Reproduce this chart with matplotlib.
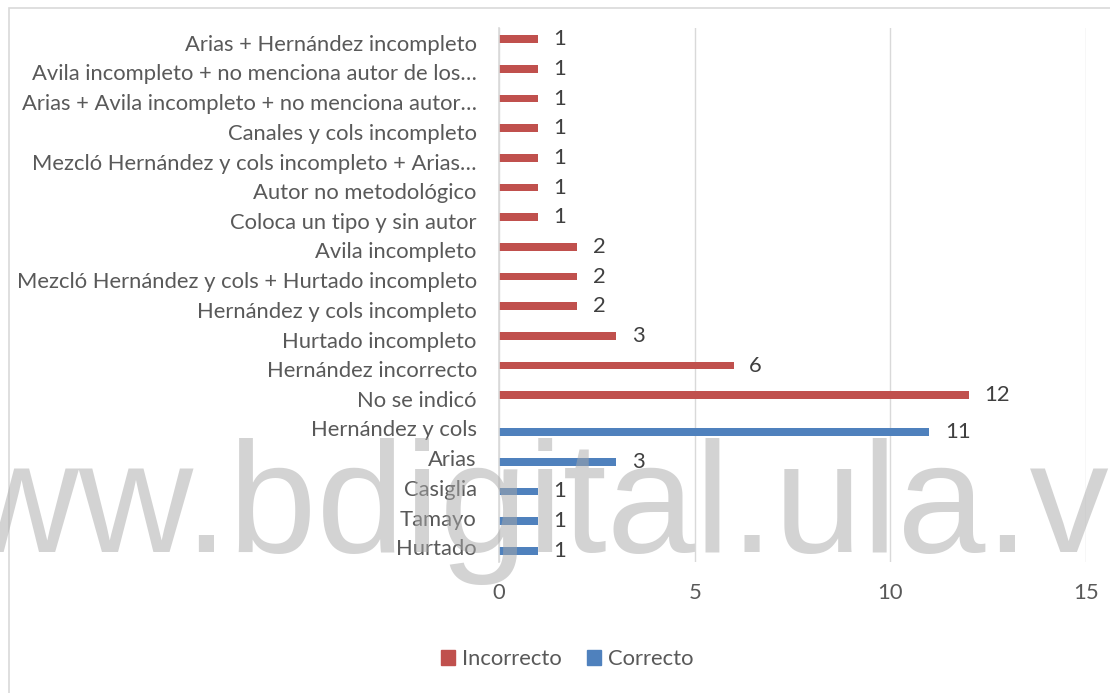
import matplotlib
matplotlib.use("Agg")
import matplotlib.pyplot as plt
from matplotlib.patches import Rectangle, Patch
import numpy as np

categories = [
    "Arias + Hernández incompleto",
    "Avila incompleto + no menciona autor de los…",
    "Arias + Avila incompleto + no menciona autor…",
    "Canales y cols incompleto",
    "Mezcló Hernández y cols incompleto + Arias…",
    "Autor no metodológico",
    "Coloca un tipo y sin autor",
    "Avila incompleto",
    "Mezcló Hernández y cols + Hurtado incompleto",
    "Hernández y cols incompleto",
    "Hurtado incompleto",
    "Hernández incorrecto",
    "No se indicó",
    "Hernández y cols",
    "Arias",
    "Casiglia",
    "Tamayo",
    "Hurtado",
]
incorrecto = [1, 1, 1, 1, 1, 1, 1, 2, 2, 2, 3, 6, 12, 0, 0, 0, 0, 0]
correcto = [0, 0, 0, 0, 0, 0, 0, 0, 0, 0, 0, 0, 0, 11, 3, 1, 1, 1]
xticks = [0, 5, 10, 15]

RED = "#C0504D"
BLUE = "#4F81BD"
TXT = "#595959"
FONT = "Lato"
FS = 15.8

plt.rcParams["font.family"] = [FONT, "DejaVu Sans"]

W, H = 1110, 693
fig = plt.figure(figsize=(W / 100, H / 100), dpi=100)
ax = fig.add_axes([499 / W, 1 - 562 / H, (1086 - 499) / W, (562 - 28) / H])

y = np.arange(len(categories))
bw = 0.26
off = 0.12
ax.barh(y - off, incorrecto, height=bw, color=RED, label="Incorrecto", zorder=3)
ax.barh(y + off, correcto, height=bw, color=BLUE, label="Correcto", zorder=3)

for yi, v in zip(y - off, incorrecto):
    if v:
        ax.annotate(str(v), (v, yi), xytext=(11, 0), textcoords="offset points",
                    va="center", ha="left", fontsize=FS, color="#404040")
for yi, v in zip(y + off, correcto):
    if v:
        ax.annotate(str(v), (v, yi), xytext=(11, 0), textcoords="offset points",
                    va="center", ha="left", fontsize=FS, color="#404040")

ax.set_xlim(0, 15)
ax.set_ylim(len(categories) - 0.5, -0.5)
ax.set_xticks(xticks)
ax.set_xticklabels([str(t) for t in xticks])
ax.set_yticks(y)
ax.set_yticklabels(categories)
ax.tick_params(axis="both", length=0, labelsize=FS, colors=TXT)
ax.tick_params(axis="y", pad=16)
ax.tick_params(axis="x", pad=15)
ax.grid(axis="x", color="#D9D9D9", linewidth=1, zorder=0)
for s in ["top", "right", "bottom"]:
    ax.spines[s].set_visible(False)
ax.spines["left"].set_color("#D9D9D9")
ax.spines["left"].set_linewidth(1.2)
ax.spines["left"].set_zorder(4)

handles = [Patch(color=RED, label="Incorrecto"), Patch(color=BLUE, label="Correcto")]
fig.legend(handles=handles, loc="center", bbox_to_anchor=(567 / W, 1 - 659 / H),
           ncol=2, frameon=False, fontsize=FS, handlelength=0.64, handleheight=0.64,
           handletextpad=0.32, columnspacing=1.15, labelcolor=TXT)

# chart border
fig.patches.append(Rectangle((9 / W, -0.1), 1.2, 1 - 8 / H + 0.1, transform=fig.transFigure,
                             fill=False, edgecolor="#D9D9D9", linewidth=1.2))

# watermark
fig.text(-150 / W, 1 - 552 / H, "www.bdigital.ula.ve", fontsize=114,
         family="Liberation Sans", color="#A8A8A8", alpha=0.5, va="baseline",
         ha="left", zorder=10)

fig.savefig("out.png", dpi=100)
